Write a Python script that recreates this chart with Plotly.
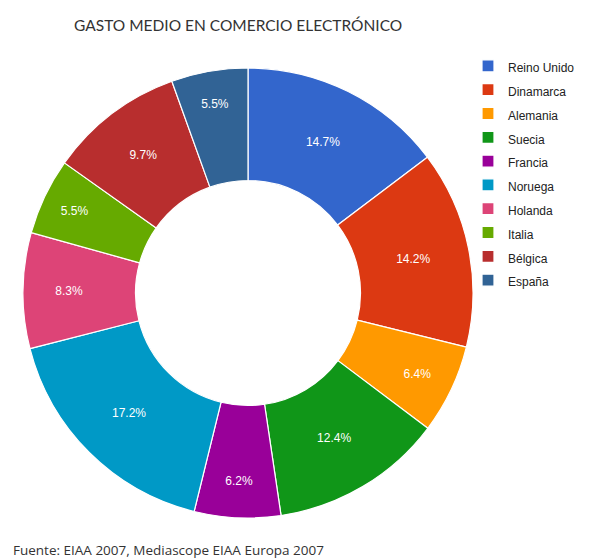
import plotly.graph_objects as go

# Share of e-commerce spending by country (%)
paises = ["Reino Unido", "Dinamarca", "Alemania", "Suecia", "Francia",
          "Noruega", "Holanda", "Italia", "Bélgica", "España"]
gasto = [14.7, 14.2, 6.4, 12.4, 6.2, 17.2, 8.3, 5.5, 9.7, 5.5]
colores = ["#3366cc", "#dc3912", "#ff9900", "#109618", "#990099",
           "#0099c6", "#dd4477", "#66aa00", "#b82e2e", "#316395"]

titulo = "GASTO MEDIO EN COMERCIO ELECTRÓNICO"
fuente = "Fuente: EIAA 2007, Mediascope EIAA Europa 2007"

W, H = 610, 559
cx, cy, r = 248, 293, 225  # donut centre and radius in pixels

fig = go.Figure(go.Pie(
    labels=[f"<span style='font-size:12px'>{p}</span>" for p in paises],
    values=gasto,
    customdata=gasto,
    texttemplate="%{customdata:.1f}%",
    textposition="inside",
    insidetextorientation="horizontal",
    textfont=dict(family="Arial", size=12, color="white"),
    marker=dict(colors=colores, line=dict(color="white", width=1.2)),
    hole=0.5,
    sort=False,
    direction="clockwise",
    rotation=0,
    domain=dict(x=[(cx - r) / W, (cx + r) / W],
                y=[(H - cy - r) / H, (H - cy + r) / H]),
))

fig.update_layout(
    width=W, height=H,
    margin=dict(l=0, r=0, t=0, b=0),
    paper_bgcolor="white",
    showlegend=True,
    legend=dict(x=468 / W, xanchor="left", y=1 - 49 / H, yanchor="top",
                font=dict(family="Arial", size=16, color="#222222"),
                bgcolor="rgba(0,0,0,0)"),
    annotations=[
        dict(text=titulo, x=238 / W, y=1 - 25 / H, xref="paper", yref="paper",
             xanchor="center", yanchor="middle", showarrow=False,
             font=dict(family="Lato", size=15.5, color="#333333")),
        dict(text=fuente, x=11 / W, y=1 - 550 / H, xref="paper", yref="paper",
             xanchor="left", yanchor="middle", showarrow=False,
             font=dict(family="Open Sans", size=13.5, color="#333333")),
    ],
)

fig.write_html("out.html")
